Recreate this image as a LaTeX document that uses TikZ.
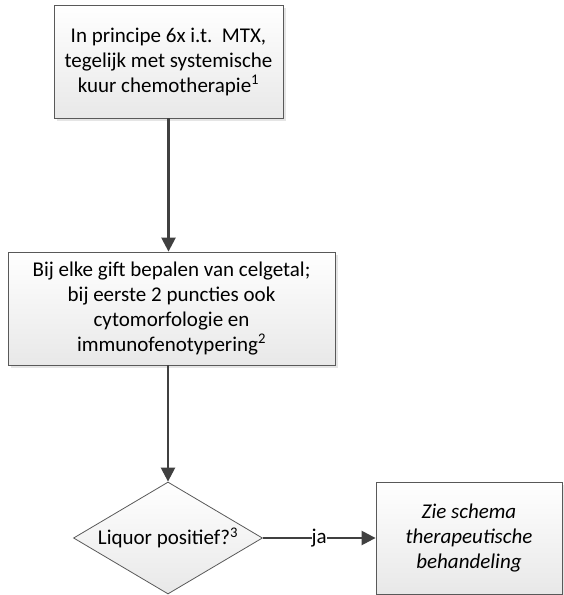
\documentclass[tikz,border=0pt]{standalone}
\usepackage{fontspec}
\setmainfont{Carlito}
\usepackage{tikz}
\usetikzlibrary{arrows.meta,shadows,shapes.geometric}

\begin{document}
\begin{tikzpicture}[x=1pt,y=-1pt,
  tekst/.style={font=\fontsize{21}{25}\selectfont},
  stap/.style={tekst,draw=black!65,line width=0.8pt,top color=white,bottom color=black!9,
    drop shadow={shadow xshift=2.5pt,shadow yshift=-2.5pt,fill=black!20},
    align=center,inner sep=0pt,minimum height=113pt},
  vraag/.style={tekst,diamond,draw=black!65,line width=0.8pt,top color=white,bottom color=black!9,
    inner sep=0pt,minimum width=189pt,minimum height=112pt},
  pijl/.style={draw=black!75,line width=2.4pt,-{Triangle[length=14pt,width=14pt]}}]
\useasboundingbox (0,0) rectangle (563,595);
\node[stap,minimum width=229pt] (mtx) at (168.5,61.5) {In principe 6x i.t.\ \ MTX,\\tegelijk met systemische\\kuur chemotherapie\textsuperscript{1}};
\node[stap,minimum width=327pt] (celgetal) at (171.5,308.5) {Bij elke gift bepalen van celgetal;\\bij eerste 2 puncties ook\\cytomorfologie en\\immunofenotypering\textsuperscript{2}};
\node[vraag] (liquor) at (168,538) {\makebox[0pt]{Liquor positief?\textsuperscript{3}}};
\node[stap,minimum width=186pt,minimum height=112pt,font=\fontsize{21}{25}\selectfont\itshape] (schema) at (469,538) {Zie schema\\therapeutische\\behandeling};
% verbindingen
\draw[pijl] (mtx.south) -- (mtx.south |- celgetal.north);
\draw[pijl] (liquor.north |- celgetal.south) -- (liquor.north);
\draw[pijl] (liquor.east) -- node[tekst,fill=white,inner sep=0pt]{ja} (schema.west);
\end{tikzpicture}
\end{document}
